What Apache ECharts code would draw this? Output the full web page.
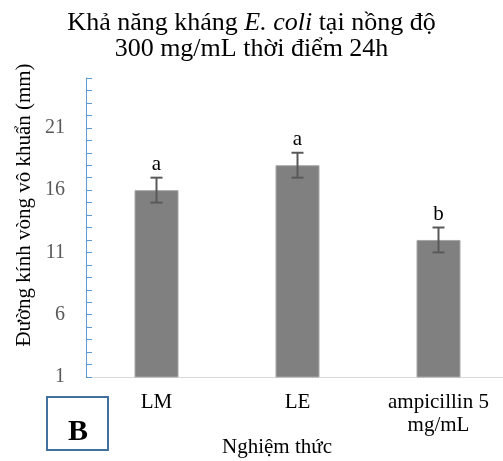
<!DOCTYPE html>
<html>
<head>
<meta charset="utf-8">
<script src="https://cdn.jsdelivr.net/npm/echarts@6/dist/echarts.min.js"></script>
<style>html,body{margin:0;padding:0;background:#fff;}#c{width:503px;height:461px;}</style>
</head>
<body>
<div id="c"></div>
<script>
var categories = ['LM', 'LE', 'ampicillin 5\nmg/mL'];
var values = [16, 18, 12];
var errors = [1, 1, 1];
var letters = ['a', 'a', 'b'];
var yTickLabels = [1, 6, 11, 16, 21];
var yMinorTicks = [1, 2, 3, 4, 5, 6, 7, 8, 9, 10, 11, 12, 13, 14, 15, 16, 17, 18, 19, 20, 21, 22, 23, 24, 25];
var yMin = 1, yMax = 25;

var FONT = '"Liberation Serif", "Times New Roman", serif';
var chart = echarts.init(document.getElementById('c'), null, {renderer: 'canvas'});
chart.setOption({
  animation: false,
  backgroundColor: '#fff',
  title: {
    text: '{n|Khả năng kháng }{i|E. coli}{n| tại nồng độ}\n{n|300 mg/mL thời điểm 24h}',
    left: 'center',
    top: 10,
    padding: [0, 0, 0, 12],
    textStyle: {
      fontFamily: FONT, fontSize: 26, color: '#000', fontWeight: 'normal', lineHeight: 26,
      rich: {
        n: {fontFamily: FONT, fontSize: 26, color: '#000', lineHeight: 26},
        i: {fontFamily: FONT, fontSize: 26, color: '#000', fontStyle: 'italic', lineHeight: 26}
      }
    }
  },
  grid: {left: 86, right: -6, top: 78, bottom: 84, containLabel: false, outerBoundsMode: 'none'},
  xAxis: {
    type: 'category',
    data: categories,
    axisLine: {lineStyle: {color: '#d9d9d9', width: 1}},
    axisTick: {show: false},
    axisLabel: {fontFamily: FONT, fontSize: 21, color: '#000', margin: 14, lineHeight: 23, interval: 0},
    name: 'Nghiệm thức',
    nameLocation: 'middle',
    nameGap: 58,
    nameMoveOverlap: false,
    nameTextStyle: {fontFamily: FONT, fontSize: 21, color: '#000', lineHeight: 24, padding: [0, 41, 0, 0]}
  },
  yAxis: {
    type: 'value',
    min: yMin,
    max: yMax,
    splitLine: {show: false},
    axisLine: {show: true, lineStyle: {color: '#5b9bd5', width: 1}},
    axisTick: {show: true, inside: true, length: 6, customValues: yMinorTicks, lineStyle: {color: '#5b9bd5'}},
    axisLabel: {fontFamily: FONT, fontSize: 20, color: '#595959', margin: 21, customValues: yTickLabels},
    name: 'Đường kính vòng vô khuẩn (mm)',
    nameLocation: 'middle',
    nameRotate: 90,
    nameGap: 50,
    nameMoveOverlap: false,
    nameTextStyle: {fontFamily: FONT, fontSize: 21, color: '#000', lineHeight: 24, padding: [0, 0, 0, 45]}
  },
  series: [
    {
      type: 'bar',
      data: values,
      barWidth: 44,
      itemStyle: {color: '#808080', borderColor: '#a6a6a6', borderWidth: 1}
    },
    {
      type: 'custom',
      data: values.map(function (v, i) { return [i, v, errors[i]]; }),
      z: 10,
      renderItem: function (params, api) {
        var i = api.value(0), v = api.value(1), e = api.value(2);
        var top = api.coord([i, v + e]);
        var bot = api.coord([i, v - e]);
        var hw = 6;
        return {
          type: 'group',
          children: [
            {type: 'line', shape: {x1: top[0], y1: top[1], x2: bot[0], y2: bot[1]}, style: {stroke: '#595959', lineWidth: 2}},
            {type: 'line', shape: {x1: top[0] - hw, y1: top[1], x2: top[0] + hw, y2: top[1]}, style: {stroke: '#595959', lineWidth: 2}},
            {type: 'line', shape: {x1: bot[0] - hw, y1: bot[1], x2: bot[0] + hw, y2: bot[1]}, style: {stroke: '#595959', lineWidth: 2}},
            {type: 'text', x: top[0], y: top[1] - 13, style: {text: letters[params.dataIndex], fontFamily: FONT, fontSize: 21, fill: '#000', align: 'center', verticalAlign: 'middle'}}
          ]
        };
      }
    }
  ],
  graphic: [
    {type: 'rect', shape: {x: 47, y: 397, width: 61, height: 53}, style: {fill: '#fff', stroke: '#41719c', lineWidth: 2}},
    {type: 'text', x: 78, y: 432, style: {text: 'B', fontFamily: FONT, fontSize: 30, fontWeight: 'bold', fill: '#000', align: 'center', verticalAlign: 'middle'}}
  ]
});
</script>
</body>
</html>
